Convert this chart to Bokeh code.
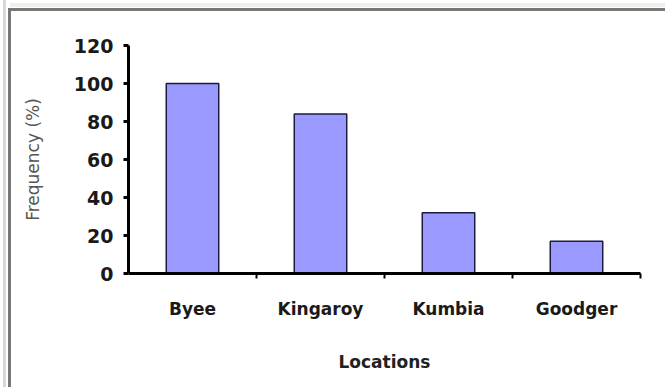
from bokeh.plotting import figure
from bokeh.models import Range1d, FixedTicker, ColumnDataSource
from bokeh.layouts import column
from bokeh.embed import file_html
from bokeh.resources import INLINE

categories = ["Byee", "Kingaroy", "Kumbia", "Goodger"]
frequency = [100, 84, 32, 17]
y_ticks = [0, 20, 40, 60, 80, 100, 120]

positions = [i + 0.5 for i in range(len(categories))]
src = ColumnDataSource(dict(x=positions, top=frequency, cat=categories))

p = figure(width=654, height=376, output_backend="svg", toolbar_location=None,
           x_range=Range1d(0, len(categories)), y_range=Range1d(0, 120),
           min_border_left=117, min_border_right=25, min_border_top=34, min_border_bottom=114)

p.vbar(x="x", top="top", bottom=0, width=0.41, source=src,
       fill_color="#9999ff", line_color="#1c1c40", line_width=1.5)

p.xgrid.visible = False
p.ygrid.visible = False
p.outline_line_color = None
p.background_fill_color = "white"
p.border_fill_color = "white"

# x axis
xa = p.xaxis[0]
xa.ticker = FixedTicker(ticks=positions, minor_ticks=list(range(1, len(categories) + 1)))
xa.major_label_overrides = {pos: c for pos, c in zip(positions, categories)}
xa.major_tick_out = 0
xa.major_tick_in = 0
xa.minor_tick_out = 5
xa.minor_tick_in = 0
xa.minor_tick_line_width = 2
xa.minor_tick_line_color = "black"
xa.axis_line_width = 3
xa.axis_line_color = "black"
xa.major_label_text_font = "DejaVu Sans"
xa.major_label_text_font_style = "bold"
xa.major_label_text_font_size = "17px"
xa.major_label_text_color = "#1a1a1a"
xa.major_label_standoff = 20
xa.axis_label = "Locations"
xa.axis_label_text_font = "DejaVu Sans"
xa.axis_label_text_font_style = "bold"
xa.axis_label_text_font_size = "17px"
xa.axis_label_text_color = "#222222"
xa.axis_label_standoff = 30

# y axis
ya = p.yaxis[0]
ya.ticker = FixedTicker(ticks=y_ticks)
ya.minor_tick_line_color = None
ya.major_tick_out = 5
ya.major_tick_in = 0
ya.major_tick_line_width = 3
ya.major_tick_line_color = "black"
ya.axis_line_width = 3
ya.axis_line_color = "black"
ya.major_label_text_font = "DejaVu Sans"
ya.major_label_text_font_style = "bold"
ya.major_label_text_font_size = "19px"
ya.major_label_text_color = "#1a1a1a"
ya.major_label_standoff = 10
ya.axis_label = "Frequency (%)"
ya.axis_label_text_font = "DejaVu Sans"
ya.axis_label_text_font_style = "normal"
ya.axis_label_text_font_size = "17px"
ya.axis_label_text_color = "#555555"
ya.axis_label_standoff = 28

frame_bg = ", ".join([
    "linear-gradient(#777777, #777777) 8px 8px / 3px 100% no-repeat",
    "linear-gradient(#777777, #777777) 8px 8px / 100% 3px no-repeat",
    "linear-gradient(#d8d8d8, #d8d8d8) 3px 0px / 3px 100% no-repeat",
    "linear-gradient(#efefe9, #efefe9) 10px 3px / 100% 4px no-repeat",
    "#ffffff",
])

layout = column(p, styles={"padding-left": "11px", "padding-top": "11px",
                           "background": frame_bg})

open("out.html", "w").write(file_html(layout, INLINE))
